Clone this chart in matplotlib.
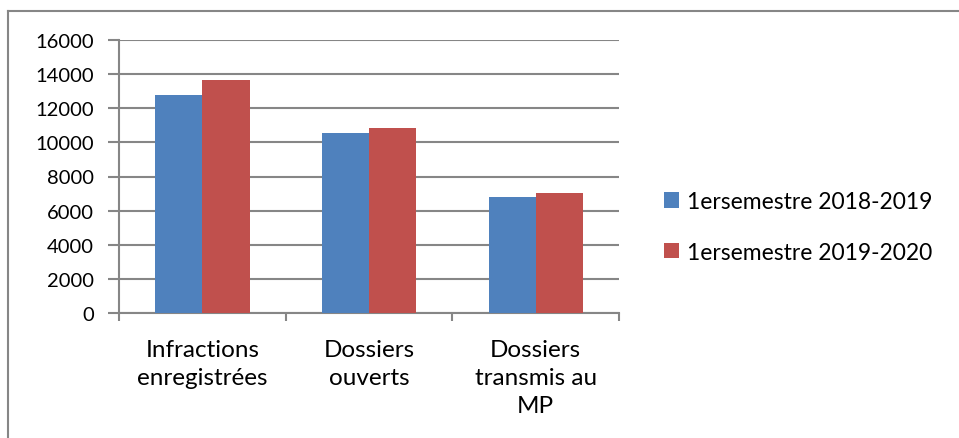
import matplotlib
matplotlib.use("Agg")
import matplotlib.pyplot as plt
from matplotlib.lines import Line2D

plt.rcParams['font.family'] = ['Lato', 'DejaVu Sans']

categories = ["Infractions\nenregistrées", "Dossiers\nouverts", "Dossiers\ntransmis au\nMP"]
series_names = ["1ersemestre 2018-2019", "1ersemestre 2019-2020"]
valeurs_2018 = [12800, 10570, 6820]
valeurs_2019 = [13640, 10860, 7010]
colors = ["#4F81BD", "#C0504D"]
grey = "#868686"

W, H = 959, 439
fig = plt.figure(figsize=(W / 100, H / 100), dpi=100)
ax = fig.add_axes([119 / W, 1 - 314 / H, 500 / W, 273 / H])

x = list(range(len(categories)))
w = 0.283
ax.bar([i - w / 2 for i in x], valeurs_2018, width=w, color=colors[0], label=series_names[0], zorder=3)
ax.bar([i + w / 2 for i in x], valeurs_2019, width=w, color=colors[1], label=series_names[1], zorder=3)

ax.set_xlim(-0.5, 2.5)
ax.set_ylim(0, 16000)
ax.set_yticks(range(0, 16001, 2000))
ax.yaxis.grid(True, color=grey, linewidth=1.5, zorder=0)
ax.set_axisbelow(True)

for s in ["top", "right"]:
    ax.spines[s].set_visible(False)
for s in ["left", "bottom"]:
    ax.spines[s].set_color(grey)
    ax.spines[s].set_linewidth(1.5)

ax.set_xticks(x)
ax.set_xticklabels(categories, linespacing=1.4)
ax.set_xticks([-0.5, 0.5, 1.5, 2.5], minor=True)
ax.tick_params(axis="x", which="major", length=0, pad=19, labelsize=17.5)
ax.tick_params(axis="x", which="minor", length=6, width=1.5, color=grey, direction="out")
ax.tick_params(axis="y", length=8, width=1.5, color=grey, pad=10, labelsize=14.5)

# cadre du graphique (coupé à droite et en bas)
fig.add_artist(Line2D([8 / W, 8 / W], [0, 1 - 11.5 / H], color=grey, linewidth=1.5))
fig.add_artist(Line2D([8 / W, 1], [1 - 11.5 / H, 1 - 11.5 / H], color=grey, linewidth=1.5))

fig.legend(loc="center left", bbox_to_anchor=(643 / W, 1 - 228 / H), frameon=False,
           fontsize=16.5, handlelength=0.65, handleheight=0.65, handletextpad=0.35,
           labelspacing=1.3)

fig.savefig("out.png", dpi=100)
